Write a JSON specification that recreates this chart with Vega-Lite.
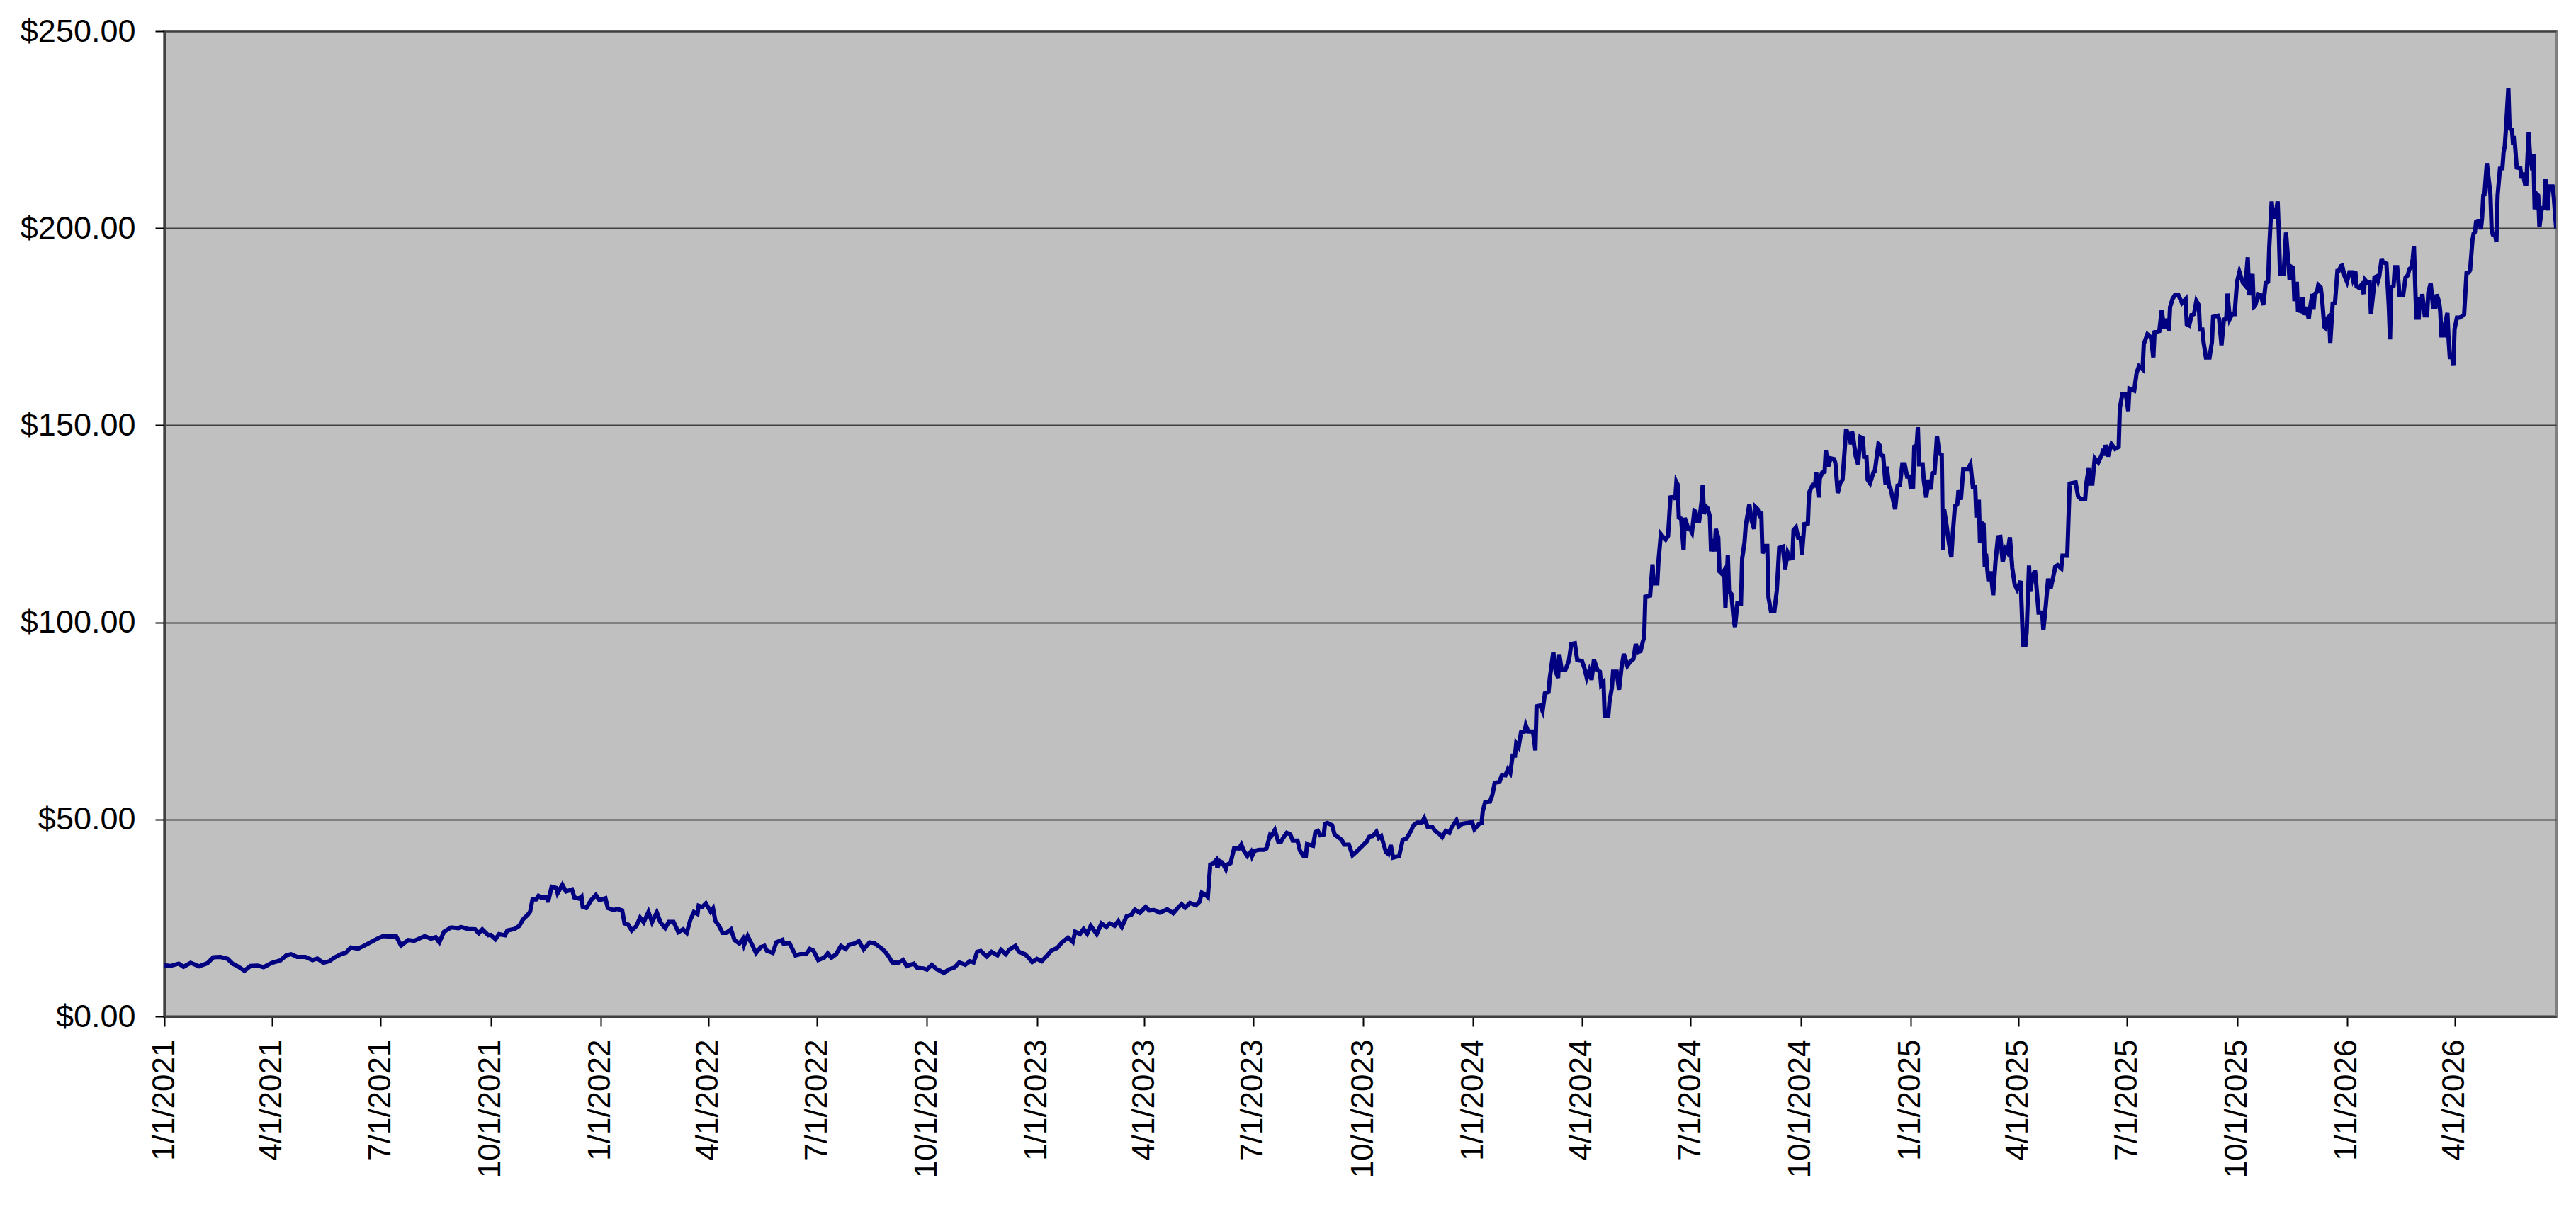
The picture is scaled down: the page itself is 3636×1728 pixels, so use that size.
{
"$schema": "https://vega.github.io/schema/vega-lite/v6.json",
"width": 3376,
"height": 1391,
"autosize": {"type": "none"},
"padding": {"left": 232, "top": 44, "right": 28, "bottom": 293},
"background": "white",
"config": {
"view": {"fill": "#C0C0C0", "stroke": "#808080", "strokeWidth": 4},
"axis": {"labelFont": "Liberation Sans", "labelColor": "#000000", "labelFontSize": 44, "labelLimit": 0, "tickColor": "#000000", "tickWidth": 2, "domainColor": "#404040", "domainWidth": 3}
},
"data": {"values": [
{"d":"2021-01-01","v":13.0},{"d":"2021-01-06","v":12.8},{"d":"2021-01-13","v":13.4},{"d":"2021-01-17","v":12.6},{"d":"2021-01-23","v":13.6},{"d":"2021-01-30","v":12.7},{"d":"2021-02-06","v":13.5},{"d":"2021-02-11","v":15.0},{"d":"2021-02-17","v":15.1},{"d":"2021-02-23","v":14.6},{"d":"2021-02-27","v":13.4},{"d":"2021-03-03","v":12.8},{"d":"2021-03-09","v":11.6},{"d":"2021-03-14","v":12.8},{"d":"2021-03-20","v":12.9},{"d":"2021-03-25","v":12.5},{"d":"2021-04-01","v":13.6},{"d":"2021-04-08","v":14.2},{"d":"2021-04-13","v":15.5},{"d":"2021-04-17","v":15.8},{"d":"2021-04-22","v":15.1},{"d":"2021-04-29","v":15.1},{"d":"2021-05-05","v":14.3},{"d":"2021-05-09","v":14.7},{"d":"2021-05-14","v":13.6},{"d":"2021-05-19","v":14.0},{"d":"2021-05-23","v":14.9},{"d":"2021-05-29","v":15.8},{"d":"2021-06-02","v":16.2},{"d":"2021-06-06","v":17.5},{"d":"2021-06-12","v":17.2},{"d":"2021-06-17","v":17.9},{"d":"2021-06-23","v":18.9},{"d":"2021-06-28","v":19.7},{"d":"2021-07-03","v":20.4},{"d":"2021-07-07","v":20.3},{"d":"2021-07-14","v":20.3},{"d":"2021-07-18","v":18.0},{"d":"2021-07-24","v":19.4},{"d":"2021-07-29","v":19.2},{"d":"2021-08-07","v":20.4},{"d":"2021-08-12","v":19.7},{"d":"2021-08-16","v":20.1},{"d":"2021-08-19","v":18.8},{"d":"2021-08-23","v":21.5},{"d":"2021-08-29","v":22.6},{"d":"2021-09-04","v":22.4},{"d":"2021-09-06","v":22.7},{"d":"2021-09-12","v":22.2},{"d":"2021-09-18","v":22.1},{"d":"2021-09-21","v":21.1},{"d":"2021-09-24","v":22.1},{"d":"2021-09-29","v":20.6},{"d":"2021-10-01","v":20.7},{"d":"2021-10-05","v":19.6},{"d":"2021-10-08","v":20.9},{"d":"2021-10-13","v":20.6},{"d":"2021-10-15","v":21.8},{"d":"2021-10-21","v":22.2},{"d":"2021-10-25","v":23.0},{"d":"2021-10-28","v":24.6},{"d":"2021-11-01","v":25.8},{"d":"2021-11-03","v":26.6},{"d":"2021-11-05","v":29.7},{"d":"2021-11-08","v":29.7},{"d":"2021-11-10","v":30.6},{"d":"2021-11-12","v":30.2},{"d":"2021-11-17","v":30.2},{"d":"2021-11-18","v":29.0},{"d":"2021-11-21","v":32.9},{"d":"2021-11-25","v":32.6},{"d":"2021-11-26","v":31.3},{"d":"2021-11-30","v":33.4},{"d":"2021-12-03","v":31.7},{"d":"2021-12-08","v":32.2},{"d":"2021-12-10","v":30.2},{"d":"2021-12-14","v":29.9},{"d":"2021-12-16","v":30.4},{"d":"2021-12-17","v":27.8},{"d":"2021-12-20","v":27.5},{"d":"2021-12-24","v":29.5},{"d":"2021-12-28","v":30.8},{"d":"2021-12-31","v":29.5},
{"d":"2022-01-05","v":30.0},{"d":"2022-01-07","v":27.5},{"d":"2022-01-12","v":27.0},{"d":"2022-01-15","v":27.3},{"d":"2022-01-19","v":26.9},{"d":"2022-01-21","v":23.6},{"d":"2022-01-24","v":23.3},{"d":"2022-01-27","v":21.8},{"d":"2022-01-31","v":23.0},{"d":"2022-02-03","v":25.1},{"d":"2022-02-06","v":23.9},{"d":"2022-02-10","v":26.5},{"d":"2022-02-13","v":23.9},{"d":"2022-02-17","v":26.4},{"d":"2022-02-20","v":23.9},{"d":"2022-02-24","v":22.4},{"d":"2022-02-27","v":24.0},{"d":"2022-03-03","v":24.0},{"d":"2022-03-07","v":21.4},{"d":"2022-03-11","v":22.1},{"d":"2022-03-14","v":21.2},{"d":"2022-03-17","v":24.5},{"d":"2022-03-20","v":26.5},{"d":"2022-03-23","v":26.0},{"d":"2022-03-24","v":28.1},{"d":"2022-03-27","v":27.8},{"d":"2022-03-30","v":28.7},{"d":"2022-04-03","v":26.6},{"d":"2022-04-05","v":27.4},{"d":"2022-04-07","v":24.2},{"d":"2022-04-10","v":23.0},{"d":"2022-04-13","v":21.2},{"d":"2022-04-16","v":21.2},{"d":"2022-04-20","v":22.1},{"d":"2022-04-23","v":19.4},{"d":"2022-04-27","v":18.5},{"d":"2022-04-30","v":19.7},{"d":"2022-05-01","v":18.2},{"d":"2022-05-04","v":20.4},{"d":"2022-05-07","v":18.6},{"d":"2022-05-11","v":16.1},{"d":"2022-05-15","v":17.6},{"d":"2022-05-18","v":17.9},{"d":"2022-05-20","v":16.7},{"d":"2022-05-25","v":16.1},{"d":"2022-05-28","v":18.8},{"d":"2022-06-02","v":19.4},{"d":"2022-06-03","v":18.5},{"d":"2022-06-08","v":18.6},{"d":"2022-06-13","v":15.5},{"d":"2022-06-17","v":15.8},{"d":"2022-06-22","v":15.8},{"d":"2022-06-25","v":17.1},{"d":"2022-06-28","v":16.7},{"d":"2022-07-02","v":14.3},{"d":"2022-07-07","v":14.9},{"d":"2022-07-10","v":16.0},{"d":"2022-07-13","v":14.9},{"d":"2022-07-17","v":15.8},{"d":"2022-07-21","v":17.9},{"d":"2022-07-25","v":17.1},{"d":"2022-07-28","v":18.2},{"d":"2022-08-01","v":18.5},{"d":"2022-08-05","v":19.1},{"d":"2022-08-09","v":17.0},{"d":"2022-08-14","v":18.8},{"d":"2022-08-18","v":18.6},{"d":"2022-08-21","v":17.9},{"d":"2022-08-24","v":17.3},{"d":"2022-08-27","v":16.4},{"d":"2022-08-30","v":15.2},{"d":"2022-09-02","v":13.7},{"d":"2022-09-07","v":13.6},{"d":"2022-09-11","v":14.3},{"d":"2022-09-14","v":12.8},{"d":"2022-09-20","v":13.4},{"d":"2022-09-23","v":12.3},{"d":"2022-09-28","v":12.2},{"d":"2022-10-01","v":11.9},{"d":"2022-10-05","v":13.1},{"d":"2022-10-09","v":12.0},{"d":"2022-10-12","v":11.6},{"d":"2022-10-15","v":11.0},{"d":"2022-10-19","v":11.9},{"d":"2022-10-24","v":12.4},{"d":"2022-10-28","v":13.7},{"d":"2022-11-02","v":13.1},{"d":"2022-11-06","v":14.0},{"d":"2022-11-09","v":13.7},{"d":"2022-11-12","v":16.4},{"d":"2022-11-15","v":16.6},{"d":"2022-11-20","v":15.2},{"d":"2022-11-24","v":16.4},{"d":"2022-11-29","v":15.5},{"d":"2022-12-02","v":16.9},{"d":"2022-12-06","v":15.8},{"d":"2022-12-09","v":17.0},{"d":"2022-12-14","v":17.9},{"d":"2022-12-17","v":16.4},{"d":"2022-12-22","v":15.8},{"d":"2022-12-25","v":14.9},{"d":"2022-12-28","v":13.8},
{"d":"2023-01-01","v":14.6},{"d":"2023-01-05","v":14.0},{"d":"2023-01-09","v":15.3},{"d":"2023-01-13","v":16.7},{"d":"2023-01-18","v":17.4},{"d":"2023-01-22","v":18.8},{"d":"2023-01-27","v":20.0},{"d":"2023-01-31","v":18.9},{"d":"2023-02-02","v":21.5},{"d":"2023-02-06","v":20.9},{"d":"2023-02-09","v":22.2},{"d":"2023-02-12","v":21.0},{"d":"2023-02-15","v":23.0},{"d":"2023-02-20","v":20.9},{"d":"2023-02-24","v":23.6},{"d":"2023-02-28","v":22.7},{"d":"2023-03-03","v":23.6},{"d":"2023-03-07","v":23.0},{"d":"2023-03-10","v":24.2},{"d":"2023-03-13","v":22.7},{"d":"2023-03-17","v":25.4},{"d":"2023-03-21","v":25.8},{"d":"2023-03-24","v":27.1},{"d":"2023-03-28","v":26.3},{"d":"2023-04-02","v":27.8},{"d":"2023-04-05","v":26.9},{"d":"2023-04-09","v":27.0},{"d":"2023-04-14","v":26.3},{"d":"2023-04-20","v":27.2},{"d":"2023-04-25","v":26.2},{"d":"2023-04-29","v":27.6},{"d":"2023-05-02","v":28.5},{"d":"2023-05-05","v":27.6},{"d":"2023-05-09","v":28.8},{"d":"2023-05-14","v":28.2},{"d":"2023-05-17","v":29.1},{"d":"2023-05-19","v":31.4},{"d":"2023-05-23","v":30.6},{"d":"2023-05-24","v":30.3},{"d":"2023-05-26","v":38.5},{"d":"2023-05-28","v":38.7},{"d":"2023-05-31","v":39.7},{"d":"2023-06-01","v":37.7},{"d":"2023-06-03","v":39.4},{"d":"2023-06-05","v":39.1},{"d":"2023-06-08","v":37.4},{"d":"2023-06-09","v":38.5},{"d":"2023-06-12","v":38.9},{"d":"2023-06-15","v":42.7},{"d":"2023-06-19","v":42.6},{"d":"2023-06-21","v":43.6},{"d":"2023-06-23","v":42.1},{"d":"2023-06-26","v":40.7},{"d":"2023-06-29","v":41.8},{"d":"2023-06-30","v":40.7},{"d":"2023-07-02","v":42.0},{"d":"2023-07-06","v":42.3},{"d":"2023-07-10","v":42.3},{"d":"2023-07-12","v":42.6},{"d":"2023-07-15","v":46.0},{"d":"2023-07-16","v":45.7},{"d":"2023-07-19","v":47.3},{"d":"2023-07-22","v":44.2},{"d":"2023-07-24","v":44.2},{"d":"2023-07-26","v":45.3},{"d":"2023-07-29","v":46.6},{"d":"2023-08-01","v":46.2},{"d":"2023-08-03","v":44.6},{"d":"2023-08-07","v":44.6},{"d":"2023-08-09","v":42.1},{"d":"2023-08-12","v":40.7},{"d":"2023-08-14","v":40.7},{"d":"2023-08-15","v":43.7},{"d":"2023-08-20","v":43.3},{"d":"2023-08-22","v":46.8},{"d":"2023-08-24","v":47.1},{"d":"2023-08-26","v":46.0},{"d":"2023-08-29","v":46.2},{"d":"2023-08-30","v":48.9},{"d":"2023-09-01","v":49.1},{"d":"2023-09-05","v":48.5},{"d":"2023-09-07","v":46.2},{"d":"2023-09-10","v":45.5},{"d":"2023-09-13","v":44.8},{"d":"2023-09-15","v":43.6},{"d":"2023-09-19","v":43.6},{"d":"2023-09-22","v":40.9},{"d":"2023-09-25","v":41.7},{"d":"2023-09-28","v":42.6},{"d":"2023-10-01","v":43.5},{"d":"2023-10-04","v":44.4},{"d":"2023-10-06","v":45.6},{"d":"2023-10-09","v":45.8},{"d":"2023-10-12","v":46.9},{"d":"2023-10-14","v":45.3},{"d":"2023-10-16","v":45.8},{"d":"2023-10-20","v":41.7},{"d":"2023-10-22","v":41.2},{"d":"2023-10-24","v":43.5},{"d":"2023-10-26","v":40.3},{"d":"2023-10-31","v":40.7},{"d":"2023-11-03","v":44.8},{"d":"2023-11-06","v":45.1},{"d":"2023-11-10","v":47.1},{"d":"2023-11-12","v":48.5},{"d":"2023-11-15","v":49.2},{"d":"2023-11-19","v":49.2},{"d":"2023-11-21","v":50.3},{"d":"2023-11-24","v":48.0},{"d":"2023-11-28","v":48.0},{"d":"2023-11-30","v":47.1},{"d":"2023-12-04","v":46.2},{"d":"2023-12-06","v":45.5},{"d":"2023-12-09","v":47.1},{"d":"2023-12-12","v":46.6},{"d":"2023-12-14","v":48.0},{"d":"2023-12-18","v":49.8},{"d":"2023-12-20","v":48.2},{"d":"2023-12-23","v":48.9},{"d":"2023-12-27","v":49.1},{"d":"2023-12-31","v":49.4},
{"d":"2024-01-02","v":47.5},{"d":"2024-01-06","v":48.9},{"d":"2024-01-08","v":49.1},{"d":"2024-01-09","v":52.1},{"d":"2024-01-11","v":54.4},{"d":"2024-01-15","v":54.5},{"d":"2024-01-17","v":56.2},{"d":"2024-01-19","v":59.3},{"d":"2024-01-23","v":59.5},{"d":"2024-01-25","v":61.3},{"d":"2024-01-28","v":61.2},{"d":"2024-01-30","v":62.7},{"d":"2024-02-01","v":61.8},{"d":"2024-02-03","v":66.2},{"d":"2024-02-05","v":66.2},{"d":"2024-02-06","v":69.3},{"d":"2024-02-08","v":68.4},{"d":"2024-02-10","v":72.1},{"d":"2024-02-13","v":72.3},{"d":"2024-02-14","v":73.9},{"d":"2024-02-16","v":72.3},{"d":"2024-02-20","v":72.3},{"d":"2024-02-22","v":67.5},{"d":"2024-02-23","v":78.7},{"d":"2024-02-26","v":78.9},{"d":"2024-02-28","v":77.5},{"d":"2024-03-01","v":82.0},{"d":"2024-03-04","v":82.3},{"d":"2024-03-05","v":85.7},{"d":"2024-03-08","v":92.5},{"d":"2024-03-10","v":87.5},{"d":"2024-03-12","v":85.9},{"d":"2024-03-13","v":91.9},{"d":"2024-03-15","v":87.9},{"d":"2024-03-18","v":87.9},{"d":"2024-03-21","v":90.2},{"d":"2024-03-23","v":94.5},{"d":"2024-03-26","v":94.7},{"d":"2024-03-28","v":90.4},{"d":"2024-04-01","v":90.2},{"d":"2024-04-03","v":88.4},{"d":"2024-04-05","v":85.9},{"d":"2024-04-07","v":87.7},{"d":"2024-04-09","v":85.4},{"d":"2024-04-11","v":90.5},{"d":"2024-04-14","v":87.9},{"d":"2024-04-16","v":87.5},{"d":"2024-04-17","v":84.1},{"d":"2024-04-19","v":84.8},{"d":"2024-04-20","v":76.3},{"d":"2024-04-23","v":76.3},{"d":"2024-04-24","v":79.8},{"d":"2024-04-26","v":83.4},{"d":"2024-04-27","v":87.5},{"d":"2024-04-30","v":87.5},{"d":"2024-05-02","v":82.9},{"d":"2024-05-04","v":88.4},{"d":"2024-05-06","v":92.0},{"d":"2024-05-09","v":89.0},{"d":"2024-05-11","v":89.9},{"d":"2024-05-14","v":90.7},{"d":"2024-05-16","v":94.5},{"d":"2024-05-18","v":92.5},{"d":"2024-05-20","v":92.7},{"d":"2024-05-22","v":95.2},{"d":"2024-05-23","v":96.1},{"d":"2024-05-24","v":106.5},{"d":"2024-05-28","v":106.8},{"d":"2024-05-30","v":114.7},{"d":"2024-05-31","v":109.9},{"d":"2024-06-03","v":109.9},{"d":"2024-06-04","v":115.6},{"d":"2024-06-06","v":122.4},{"d":"2024-06-09","v":121.3},{"d":"2024-06-10","v":121.0},{"d":"2024-06-12","v":121.9},{"d":"2024-06-14","v":131.7},{"d":"2024-06-17","v":131.9},{"d":"2024-06-18","v":131.1},{"d":"2024-06-19","v":135.6},{"d":"2024-06-20","v":135.0},{"d":"2024-06-21","v":126.6},{"d":"2024-06-23","v":126.3},{"d":"2024-06-25","v":118.3},{"d":"2024-06-26","v":126.5},{"d":"2024-06-29","v":123.7},{"d":"2024-07-01","v":123.4},{"d":"2024-07-02","v":122.8},{"d":"2024-07-04","v":128.3},{"d":"2024-07-05","v":128.1},{"d":"2024-07-06","v":125.7},{"d":"2024-07-08","v":125.7},{"d":"2024-07-10","v":130.5},{"d":"2024-07-11","v":134.9},{"d":"2024-07-12","v":127.5},{"d":"2024-07-14","v":129.3},{"d":"2024-07-15","v":129.0},{"d":"2024-07-17","v":126.9},{"d":"2024-07-18","v":118.0},{"d":"2024-07-19","v":121.1},{"d":"2024-07-21","v":118.0},{"d":"2024-07-22","v":123.7},{"d":"2024-07-24","v":121.6},{"d":"2024-07-25","v":112.9},{"d":"2024-07-27","v":112.3},{"d":"2024-07-29","v":113.2},{"d":"2024-07-30","v":103.7},{"d":"2024-08-01","v":117.1},{"d":"2024-08-02","v":107.8},{"d":"2024-08-04","v":107.2},{"d":"2024-08-06","v":100.3},{"d":"2024-08-07","v":98.8},{"d":"2024-08-09","v":104.9},{"d":"2024-08-12","v":104.8},{"d":"2024-08-13","v":116.2},{"d":"2024-08-15","v":120.4},{"d":"2024-08-16","v":124.6},{"d":"2024-08-19","v":129.9},{"d":"2024-08-21","v":125.7},{"d":"2024-08-23","v":123.7},{"d":"2024-08-24","v":129.3},{"d":"2024-08-26","v":128.7},{"d":"2024-08-28","v":126.6},{"d":"2024-08-29","v":128.1},{"d":"2024-08-30","v":117.5},{"d":"2024-09-01","v":119.4},{"d":"2024-09-03","v":119.4},{"d":"2024-09-04","v":106.3},{"d":"2024-09-06","v":103.0},{"d":"2024-09-09","v":103.0},{"d":"2024-09-11","v":108.1},{"d":"2024-09-13","v":118.9},{"d":"2024-09-16","v":119.2},{"d":"2024-09-18","v":113.5},{"d":"2024-09-20","v":117.7},{"d":"2024-09-22","v":116.2},{"d":"2024-09-24","v":116.3},{"d":"2024-09-25","v":123.4},{"d":"2024-09-27","v":124.1},{"d":"2024-09-29","v":121.3},{"d":"2024-10-01","v":121.3},{"d":"2024-10-02","v":117.1},{"d":"2024-10-04","v":124.9},{"d":"2024-10-07","v":125.1},{"d":"2024-10-08","v":132.9},{"d":"2024-10-11","v":134.9},{"d":"2024-10-13","v":134.7},{"d":"2024-10-14","v":138.0},{"d":"2024-10-16","v":131.7},{"d":"2024-10-17","v":136.5},{"d":"2024-10-19","v":138.0},{"d":"2024-10-21","v":138.2},{"d":"2024-10-22","v":143.7},{"d":"2024-10-24","v":139.5},{"d":"2024-10-26","v":141.6},{"d":"2024-10-29","v":141.4},{"d":"2024-10-30","v":140.4},{"d":"2024-11-01","v":132.8},{"d":"2024-11-03","v":135.3},{"d":"2024-11-05","v":136.2},{"d":"2024-11-08","v":149.0},{"d":"2024-11-10","v":147.6},{"d":"2024-11-12","v":145.2},{"d":"2024-11-13","v":148.4},{"d":"2024-11-14","v":146.7},{"d":"2024-11-16","v":142.2},{"d":"2024-11-18","v":140.1},{"d":"2024-11-20","v":147.0},{"d":"2024-11-22","v":146.7},{"d":"2024-11-23","v":142.0},{"d":"2024-11-25","v":141.9},{"d":"2024-11-26","v":136.2},{"d":"2024-11-28","v":135.3},{"d":"2024-12-01","v":138.2},{"d":"2024-12-02","v":138.3},{"d":"2024-12-05","v":145.2},{"d":"2024-12-06","v":144.9},{"d":"2024-12-07","v":142.5},{"d":"2024-12-09","v":142.2},{"d":"2024-12-11","v":135.0},{"d":"2024-12-12","v":139.5},{"d":"2024-12-14","v":134.4},{"d":"2024-12-15","v":134.1},{"d":"2024-12-19","v":128.7},{"d":"2024-12-21","v":134.7},{"d":"2024-12-23","v":134.9},{"d":"2024-12-25","v":140.1},{"d":"2024-12-27","v":140.1},{"d":"2024-12-29","v":137.0},{"d":"2024-12-31","v":137.0},
{"d":"2025-01-01","v":134.3},{"d":"2025-01-03","v":134.4},{"d":"2025-01-04","v":144.6},{"d":"2025-01-06","v":144.9},{"d":"2025-01-07","v":149.5},{"d":"2025-01-08","v":140.1},{"d":"2025-01-11","v":140.1},{"d":"2025-01-12","v":135.9},{"d":"2025-01-14","v":131.7},{"d":"2025-01-16","v":136.2},{"d":"2025-01-18","v":133.7},{"d":"2025-01-19","v":137.8},{"d":"2025-01-21","v":138.0},{"d":"2025-01-23","v":147.3},{"d":"2025-01-25","v":142.8},{"d":"2025-01-27","v":142.5},{"d":"2025-01-28","v":118.3},{"d":"2025-01-29","v":128.7},{"d":"2025-01-31","v":124.6},{"d":"2025-02-02","v":120.1},{"d":"2025-02-04","v":116.5},{"d":"2025-02-05","v":121.6},{"d":"2025-02-07","v":129.5},{"d":"2025-02-09","v":130.0},{"d":"2025-02-10","v":133.5},{"d":"2025-02-12","v":131.1},{"d":"2025-02-14","v":138.9},{"d":"2025-02-18","v":138.9},{"d":"2025-02-20","v":140.1},{"d":"2025-02-22","v":134.4},{"d":"2025-02-24","v":134.4},{"d":"2025-02-25","v":126.6},{"d":"2025-02-27","v":131.1},{"d":"2025-02-28","v":120.1},{"d":"2025-03-02","v":125.1},{"d":"2025-03-03","v":124.9},{"d":"2025-03-04","v":114.1},{"d":"2025-03-05","v":117.4},{"d":"2025-03-07","v":110.5},{"d":"2025-03-09","v":112.9},{"d":"2025-03-11","v":106.9},{"d":"2025-03-13","v":115.6},{"d":"2025-03-15","v":121.6},{"d":"2025-03-17","v":121.7},{"d":"2025-03-19","v":115.3},{"d":"2025-03-21","v":118.6},{"d":"2025-03-23","v":117.7},{"d":"2025-03-25","v":121.6},{"d":"2025-03-27","v":113.8},{"d":"2025-03-29","v":109.6},{"d":"2025-03-31","v":108.4},{"d":"2025-04-03","v":110.5},{"d":"2025-04-05","v":94.3},{"d":"2025-04-07","v":94.3},{"d":"2025-04-08","v":97.6},{"d":"2025-04-10","v":114.4},{"d":"2025-04-11","v":107.8},{"d":"2025-04-13","v":111.7},{"d":"2025-04-15","v":113.2},{"d":"2025-04-16","v":109.9},{"d":"2025-04-18","v":102.5},{"d":"2025-04-21","v":102.5},{"d":"2025-04-22","v":98.0},{"d":"2025-04-24","v":104.2},{"d":"2025-04-26","v":111.1},{"d":"2025-04-28","v":108.5},{"d":"2025-05-01","v":112.6},{"d":"2025-05-02","v":114.2},{"d":"2025-05-04","v":114.5},{"d":"2025-05-07","v":113.7},{"d":"2025-05-08","v":116.9},{"d":"2025-05-12","v":116.9},{"d":"2025-05-14","v":135.2},{"d":"2025-05-19","v":135.5},{"d":"2025-05-21","v":132.0},{"d":"2025-05-23","v":131.4},{"d":"2025-05-27","v":131.4},{"d":"2025-05-28","v":135.4},{"d":"2025-05-30","v":139.1},{"d":"2025-05-31","v":135.2},{"d":"2025-06-02","v":135.2},{"d":"2025-06-04","v":141.6},{"d":"2025-06-07","v":140.6},{"d":"2025-06-10","v":142.6},{"d":"2025-06-11","v":144.0},{"d":"2025-06-12","v":142.3},{"d":"2025-06-13","v":145.0},{"d":"2025-06-15","v":142.1},{"d":"2025-06-18","v":145.2},{"d":"2025-06-21","v":144.0},{"d":"2025-06-24","v":144.5},{"d":"2025-06-25","v":154.4},{"d":"2025-06-27","v":157.8},{"d":"2025-06-30","v":157.8},{"d":"2025-07-02","v":153.6},{"d":"2025-07-03","v":159.3},{"d":"2025-07-07","v":158.8},{"d":"2025-07-09","v":163.3},{"d":"2025-07-11","v":165.0},{"d":"2025-07-14","v":164.2},{"d":"2025-07-15","v":170.6},{"d":"2025-07-18","v":173.1},{"d":"2025-07-21","v":172.3},{"d":"2025-07-23","v":167.2},{"d":"2025-07-24","v":173.6},{"d":"2025-07-28","v":173.9},{"d":"2025-07-30","v":179.2},{"d":"2025-08-01","v":174.6},{"d":"2025-08-03","v":177.0},{"d":"2025-08-05","v":173.9},{"d":"2025-08-06","v":180.0},{"d":"2025-08-08","v":182.0},{"d":"2025-08-10","v":183.0},{"d":"2025-08-13","v":183.0},{"d":"2025-08-16","v":181.0},{"d":"2025-08-19","v":182.0},{"d":"2025-08-20","v":175.6},{"d":"2025-08-22","v":175.3},{"d":"2025-08-24","v":178.0},{"d":"2025-08-26","v":178.2},{"d":"2025-08-28","v":181.5},{"d":"2025-08-30","v":180.5},{"d":"2025-08-31","v":174.3},{"d":"2025-09-02","v":174.3},{"d":"2025-09-03","v":171.1},{"d":"2025-09-05","v":167.2},{"d":"2025-09-08","v":167.2},{"d":"2025-09-10","v":171.1},{"d":"2025-09-11","v":177.5},{"d":"2025-09-15","v":177.8},{"d":"2025-09-16","v":177.0},{"d":"2025-09-18","v":170.3},{"d":"2025-09-20","v":176.8},{"d":"2025-09-22","v":177.0},{"d":"2025-09-23","v":183.4},{"d":"2025-09-25","v":177.0},{"d":"2025-09-27","v":178.2},{"d":"2025-09-29","v":178.2},{"d":"2025-10-01","v":186.4},{"d":"2025-10-03","v":188.9},{"d":"2025-10-06","v":186.1},{"d":"2025-10-08","v":185.4},{"d":"2025-10-10","v":192.6},{"d":"2025-10-11","v":183.0},{"d":"2025-10-14","v":188.4},{"d":"2025-10-15","v":180.0},{"d":"2025-10-16","v":180.2},{"d":"2025-10-19","v":183.2},{"d":"2025-10-21","v":183.0},{"d":"2025-10-23","v":180.5},{"d":"2025-10-25","v":186.1},{"d":"2025-10-27","v":186.4},{"d":"2025-10-28","v":195.3},{"d":"2025-10-30","v":206.8},{"d":"2025-10-31","v":202.9},{"d":"2025-11-02","v":202.9},{"d":"2025-11-04","v":206.8},{"d":"2025-11-05","v":198.7},{"d":"2025-11-06","v":188.4},{"d":"2025-11-09","v":188.4},{"d":"2025-11-11","v":198.9},{"d":"2025-11-14","v":186.9},{"d":"2025-11-15","v":190.3},{"d":"2025-11-17","v":189.9},{"d":"2025-11-18","v":181.5},{"d":"2025-11-20","v":186.4},{"d":"2025-11-21","v":179.2},{"d":"2025-11-23","v":179.0},{"d":"2025-11-25","v":182.5},{"d":"2025-11-26","v":178.0},{"d":"2025-11-28","v":180.0},{"d":"2025-11-30","v":177.0},{"d":"2025-12-01","v":179.5},{"d":"2025-12-03","v":183.3},{"d":"2025-12-04","v":179.5},{"d":"2025-12-05","v":183.3},{"d":"2025-12-07","v":183.9},{"d":"2025-12-08","v":185.6},{"d":"2025-12-10","v":185.0},{"d":"2025-12-11","v":182.7},{"d":"2025-12-13","v":175.0},{"d":"2025-12-14","v":174.7},{"d":"2025-12-16","v":177.3},{"d":"2025-12-17","v":177.6},{"d":"2025-12-18","v":170.9},{"d":"2025-12-19","v":175.7},{"d":"2025-12-20","v":180.8},{"d":"2025-12-22","v":181.1},{"d":"2025-12-24","v":189.1},{"d":"2025-12-25","v":189.1},{"d":"2025-12-27","v":190.4},{"d":"2025-12-28","v":190.5},{"d":"2025-12-30","v":187.8},
{"d":"2026-01-01","v":186.4},{"d":"2026-01-03","v":188.8},{"d":"2026-01-05","v":188.8},{"d":"2026-01-06","v":187.2},{"d":"2026-01-08","v":189.0},{"d":"2026-01-09","v":185.3},{"d":"2026-01-11","v":184.9},{"d":"2026-01-13","v":185.6},{"d":"2026-01-15","v":183.3},{"d":"2026-01-16","v":186.9},{"d":"2026-01-18","v":186.2},{"d":"2026-01-20","v":186.2},{"d":"2026-01-21","v":178.2},{"d":"2026-01-23","v":183.7},{"d":"2026-01-24","v":187.5},{"d":"2026-01-26","v":187.8},{"d":"2026-01-27","v":186.7},{"d":"2026-01-28","v":187.8},{"d":"2026-01-30","v":192.3},{"d":"2026-01-31","v":191.4},{"d":"2026-02-03","v":191.0},{"d":"2026-02-05","v":180.1},{"d":"2026-02-06","v":171.8},{"d":"2026-02-07","v":185.0},{"d":"2026-02-09","v":185.4},{"d":"2026-02-10","v":190.1},{"d":"2026-02-12","v":190.1},{"d":"2026-02-14","v":183.0},{"d":"2026-02-17","v":183.0},{"d":"2026-02-19","v":187.5},{"d":"2026-02-21","v":188.1},{"d":"2026-02-22","v":189.6},{"d":"2026-02-24","v":190.1},{"d":"2026-02-25","v":192.3},{"d":"2026-02-26","v":195.5},{"d":"2026-02-28","v":177.3},{"d":"2026-03-02","v":177.3},{"d":"2026-03-03","v":182.4},{"d":"2026-03-04","v":179.5},{"d":"2026-03-05","v":183.3},{"d":"2026-03-07","v":177.9},{"d":"2026-03-09","v":177.9},{"d":"2026-03-10","v":183.7},{"d":"2026-03-12","v":186.0},{"d":"2026-03-14","v":180.1},{"d":"2026-03-16","v":180.1},{"d":"2026-03-17","v":183.2},{"d":"2026-03-19","v":181.4},{"d":"2026-03-20","v":178.9},{"d":"2026-03-21","v":172.8},{"d":"2026-03-23","v":172.8},{"d":"2026-03-24","v":175.7},{"d":"2026-03-26","v":178.5},{"d":"2026-03-27","v":171.8},{"d":"2026-03-28","v":167.3},{"d":"2026-03-30","v":167.3},{"d":"2026-03-31","v":165.1},{"d":"2026-04-01","v":174.4},{"d":"2026-04-03","v":177.3},{"d":"2026-04-05","v":177.3},{"d":"2026-04-07","v":177.6},{"d":"2026-04-09","v":178.1},{"d":"2026-04-10","v":183.3},{"d":"2026-04-11","v":188.6},{"d":"2026-04-13","v":188.8},{"d":"2026-04-14","v":189.4},{"d":"2026-04-16","v":197.1},{"d":"2026-04-17","v":198.7},{"d":"2026-04-18","v":199.0},{"d":"2026-04-19","v":201.6},{"d":"2026-04-20","v":201.8},{"d":"2026-04-22","v":201.9},{"d":"2026-04-23","v":199.7},{"d":"2026-04-24","v":202.6},{"d":"2026-04-25","v":208.3},{"d":"2026-04-26","v":208.5},{"d":"2026-04-28","v":216.5},{"d":"2026-05-01","v":208.6},{"d":"2026-05-02","v":199.7},{"d":"2026-05-03","v":198.4},{"d":"2026-05-05","v":198.2},{"d":"2026-05-06","v":196.5},{"d":"2026-05-07","v":208.3},{"d":"2026-05-09","v":215.1},{"d":"2026-05-11","v":215.2},{"d":"2026-05-12","v":219.3},{"d":"2026-05-13","v":220.8},{"d":"2026-05-14","v":225.3},{"d":"2026-05-16","v":235.6},{"d":"2026-05-17","v":225.3},{"d":"2026-05-19","v":225.1},{"d":"2026-05-20","v":221.1},{"d":"2026-05-21","v":223.4},{"d":"2026-05-23","v":215.4},{"d":"2026-05-26","v":215.2},{"d":"2026-05-27","v":212.8},{"d":"2026-05-28","v":214.1},{"d":"2026-05-30","v":211.2},{"d":"2026-05-31","v":211.2},{"d":"2026-06-02","v":224.3},{"d":"2026-06-03","v":219.1},{"d":"2026-06-05","v":214.7},{"d":"2026-06-06","v":218.7},{"d":"2026-06-07","v":204.8},{"d":"2026-06-09","v":208.6},{"d":"2026-06-10","v":208.3},{"d":"2026-06-11","v":200.3},{"d":"2026-06-13","v":205.1},{"d":"2026-06-15","v":205.1},{"d":"2026-06-16","v":212.5},{"d":"2026-06-18","v":204.5},{"d":"2026-06-19","v":210.6},{"d":"2026-06-22","v":210.6},{"d":"2026-06-23","v":208.0},{"d":"2026-06-25","v":200.0}
]},
"mark": {"type": "line", "color": "#000080", "strokeWidth": 6, "clip": true},
"encoding": {
"x": {"field": "d", "type": "temporal",
 "scale": {"type": "utc", "domain": [{"year": 2021, "month": 1, "date": 1, "utc": true}, {"year": 2026, "month": 6, "date": 25, "utc": true}]},
 "axis": {"title": null, "labelExpr": "utcFormat(datum.value, '%-m/%-d/%Y')", "labelAngle": -90, "tickCount": {"interval": "month", "step": 3}, "grid": false, "tickSize": 14, "labelPadding": 18, "labelFontSize": 44, "labelLimit": 0, "labelOverlap": false, "labelFlush": false, "domainColor": "#404040", "domainWidth": 3}},
"y": {"field": "v", "type": "quantitative",
 "scale": {"domain": [0, 250], "nice": false},
 "axis": {"title": null, "values": [0, 50, 100, 150, 200, 250], "format": "$,.2f", "grid": true, "gridColor": "#404040", "gridWidth": 2, "tickSize": 13, "labelPadding": 28, "labelFontSize": 45}}
}
}
